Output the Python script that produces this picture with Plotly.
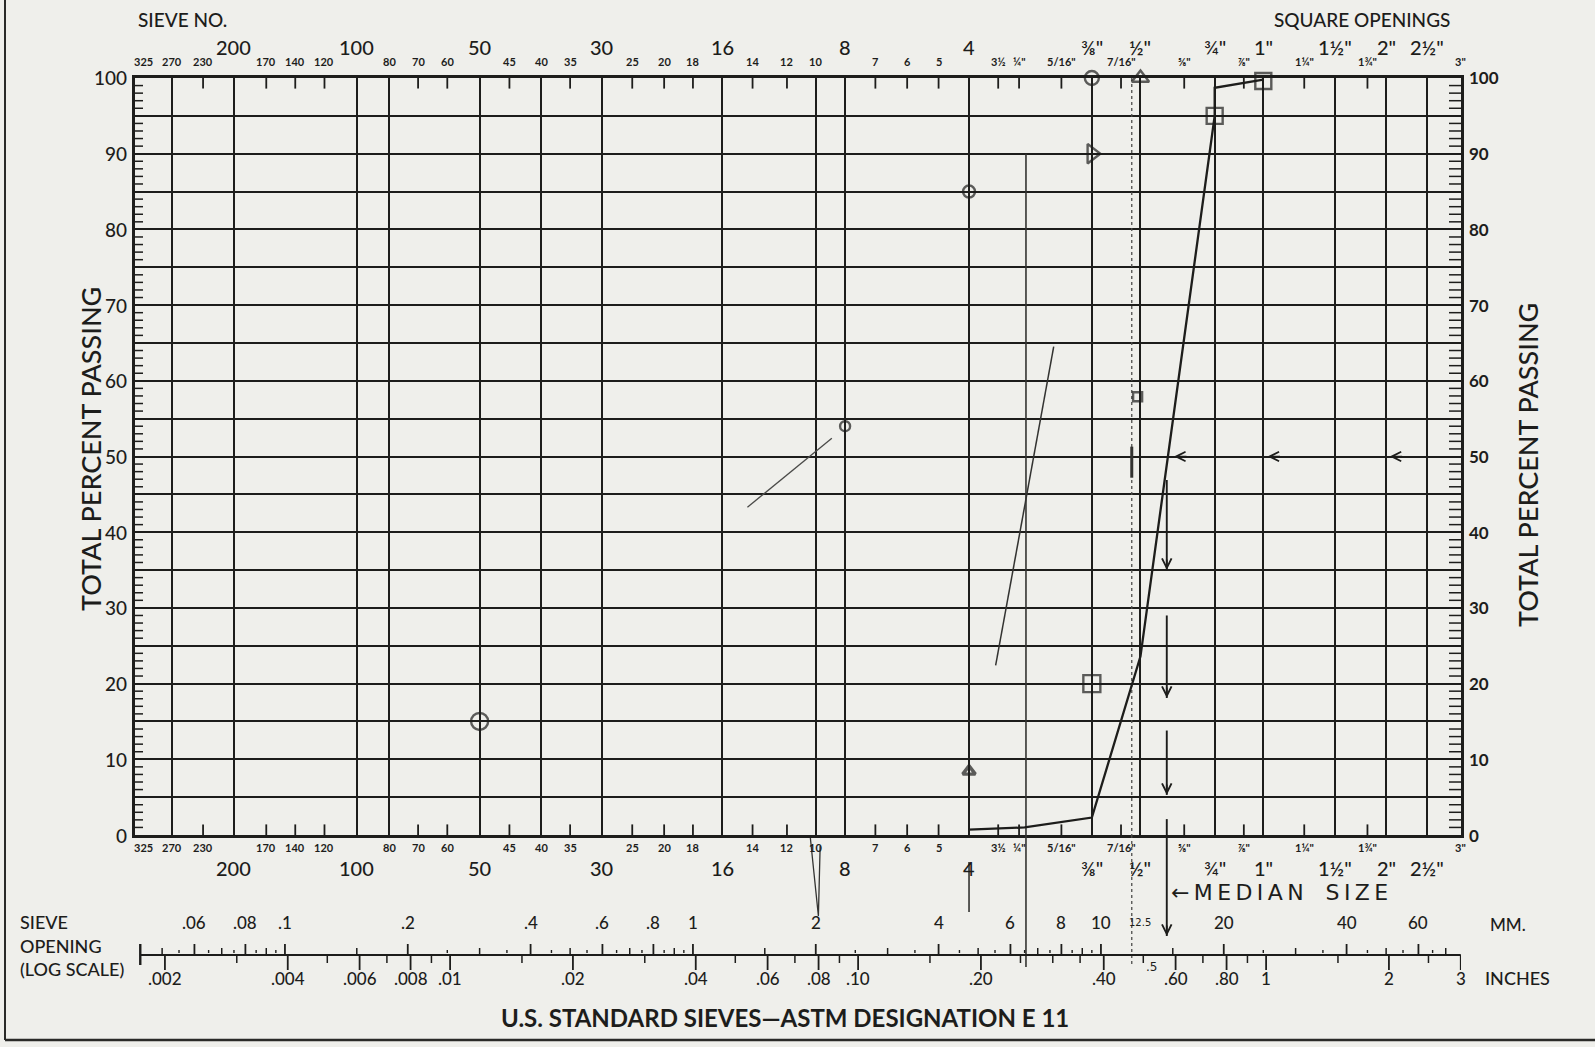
import math
import plotly.graph_objects as go

# ---------------- page geometry (px) ----------------
W, H = 1595, 1047
PLOT_L, PLOT_R, PLOT_T, PLOT_B = 135, 1461, 78, 835
LOG_MIN, LOG_MAX = -1.3675, 1.8825           # log10(mm) at the left / right frame
PX_PER_DECADE = (PLOT_R - PLOT_L) / (LOG_MAX - LOG_MIN)
IN_MM = 25.4

INK = "#1d1d1b"
SKETCH = "#333331"
PAPER = "#efefeb"
FONT = "Lato, 'Noto Sans', 'DejaVu Sans', sans-serif"
HAND = "'DejaVu Sans', sans-serif"

# ---------------- U.S. standard sieve series (opening in mm) ----------------
MAJOR_SIEVE_LABELS = ["200", "100", "50", "30", "16", "8", "4", "⅜\"", "½\"", "¾\"", "1\"", "1½\"", "2\"", "2½\""]
MAJOR_SIEVE_MM = [0.075, 0.150, 0.300, 0.600, 1.18, 2.36, 4.75, 9.5, 12.5, 19.0, 25.0, 37.5, 50.0, 63.0]

MINOR_SIEVE_LABELS = ["325", "270", "230", "170", "140", "120", "80", "70", "60", "45", "40", "35",
                      "25", "20", "18", "14", "12", "10", "7", "6", "5", "3½", "¼\"", "5/16\"",
                      "7/16\"", "⅝\"", "⅞\"", "1¼\"", "1¾\"", "3\""]
MINOR_SIEVE_MM = [0.045, 0.053, 0.063, 0.090, 0.106, 0.125, 0.180, 0.212, 0.250, 0.355, 0.425, 0.500,
                  0.710, 0.850, 1.00, 1.40, 1.70, 2.00, 2.80, 3.35, 4.00, 5.60, 6.30, 8.00,
                  11.2, 16.0, 22.4, 31.5, 45.0, 76.2]
RULED_MINOR = ["270", "80", "40", "10"]      # carry a full ruling instead of an edge tick
UNMARKED_MINOR = ["325", "3\""]              # label only, at the frame corners

# ---------------- sieve-opening ruler ----------------
MM_LABELS = [".06", ".08", ".1", ".2", ".4", ".6", ".8", "1", "2", "4", "6", "8", "10", "20", "40", "60"]
MM_LABEL_VALUES = [0.06, 0.08, 0.1, 0.2, 0.4, 0.6, 0.8, 1, 2, 4, 6, 8, 10, 20, 40, 60]
MM_MINOR_TICKS = [0.05, 0.07, 0.09, 0.15, 0.3, 0.5, 0.7, 0.9, 1.5, 3, 5, 7, 9, 15, 30, 50, 70]
MM_FINE_TICKS = [0.055, 0.065, 0.075, 0.085, 0.095, 0.25, 0.35, 0.45, 0.55, 0.65, 0.75, 0.85, 0.95,
                 2.5, 3.5, 4.5, 5.5, 6.5, 7.5, 8.5, 9.5, 25, 35, 45, 55, 65]
INCH_LABELS = [".002", ".004", ".006", ".008", ".01", ".02", ".04", ".06", ".08", ".10", ".20",
               ".40", ".60", ".80", "1", "2", "3"]
INCH_LABEL_VALUES = [0.002, 0.004, 0.006, 0.008, 0.01, 0.02, 0.04, 0.06, 0.08, 0.10, 0.20,
                     0.40, 0.60, 0.80, 1, 2, 3]
INCH_MINOR_TICKS = [0.003, 0.005, 0.007, 0.009, 0.015, 0.03, 0.05, 0.07, 0.09, 0.15, 0.25, 0.3,
                    0.35, 0.5, 0.7, 0.9, 1.5, 2.5]
RULER_START_MM = 0.0442

# ---------------- grading test ----------------
GRADING_MM = [4.75, 6.5, 9.5, 12.5, 19.0, 19.0, 25.0]
GRADING_PASS = [0.7, 1.0, 2.3, 23.6, 95.0, 98.7, 99.8]

CIRCLE_MM = [9.5, 4.75, 2.36, 0.300]
CIRCLE_PASS = [100, 85, 54, 15]
CIRCLE_SIZE = [14, 12, 10, 17]
SQUARE_MM = [25.0, 19.0, 9.5, 12.3]
SQUARE_PASS = [99.6, 95.0, 20.0, 57.9]
SQUARE_SIZE = [16, 16, 17, 9]
TRI_UP_MM = [12.5, 4.75]
TRI_UP_PASS = [100, 8.4]
TRI_UP_SIZE = [15, 11]
TRI_RIGHT_MM = [9.5]
TRI_RIGHT_PASS = [90]

# median (50 % passing) construction
MEDIAN_PASS = 50
MEDIAN_MM = 14.5
MEDIAN_SEGMENTS = [(46.9, 35.0), (29.0, 18.1), (13.8, 5.3), (2.1, 0.0)]
MEDIAN_ARROW_PASS = [35.0, 18.1, 5.3]
MEDIAN_FOOT_PX = 936
LEFT_ARROW_MM = [15.1, 25.6, 51.0]

# pencil work on the sheet
SKETCH_A_MM, SKETCH_A_PASS = [1.36, 2.19], [43.3, 52.4]
SKETCH_B_MM, SKETCH_B_PASS = [5.52, 7.66], [22.4, 64.5]
QUARTER_MM, QUARTER_TOP_PASS, QUARTER_FOOT_PX = 6.55, 90.0, 967
DOTTED_MM, DOTTED_FOOT_PX = 11.9, 966
DOTTED_HEAVY_PASS = [47.2, 51.3]
NO4_STROKE_PX = [862, 912]
NO10_LOOP_MM, NO10_LOOP_PX = [1.94, 2.03, 2.05], [838, 916, 846]


def lg(v):
    return math.log10(v)


def py(px):
    """page pixel (from top) -> paper fraction"""
    return 1 - px / H


def segments(pairs_x, pairs_y):
    xs, ys = [], []
    for (x0, x1), (y0, y1) in zip(pairs_x, pairs_y):
        xs += [x0, x1, None]
        ys += [y0, y1, None]
    return xs, ys


fig = go.Figure()


def add_lines(xs, ys, width=1.6, color=INK, dash="solid", page=False):
    fig.add_trace(go.Scatter(
        x=xs, y=ys, mode="lines", line=dict(color=color, width=width, dash=dash),
        xaxis="x2" if page else "x", yaxis="y2" if page else "y",
        hoverinfo="skip", showlegend=False))


# ---- edge ticks: percent on both sides ----
pct = [p for p in range(1, 100) if p % 5]
x_left_in = 10 ** (LOG_MIN + 8 / PX_PER_DECADE)
x_right_in = 10 ** (LOG_MAX - 12 / PX_PER_DECADE)
xs, ys = segments([(10 ** LOG_MIN, x_left_in)] * len(pct), [(p, p) for p in pct])
add_lines(xs, ys, width=1.5)
xs, ys = segments([(x_right_in, 10 ** LOG_MAX)] * len(pct), [(p, p) for p in pct])
add_lines(xs, ys, width=1.5)

# ---- edge ticks: intermediate sieves on top and bottom frame ----
tick_mm = [m for m, lab in zip(MINOR_SIEVE_MM, MINOR_SIEVE_LABELS)
           if lab not in RULED_MINOR and lab not in UNMARKED_MINOR]
xs, ys = segments([(m, m) for m in tick_mm] * 2,
                  [(100, 98.6)] * len(tick_mm) + [(0, 1.4)] * len(tick_mm))
add_lines(xs, ys, width=1.8)

# ---- pencil construction lines ----
add_lines(SKETCH_A_MM, SKETCH_A_PASS, width=1.3, color="#4a4a48")
add_lines(SKETCH_B_MM, SKETCH_B_PASS, width=1.5, color=SKETCH)
add_lines([QUARTER_MM, QUARTER_MM], [QUARTER_TOP_PASS, 0], width=1.6, color=SKETCH)
add_lines([QUARTER_MM, QUARTER_MM], [PLOT_B, QUARTER_FOOT_PX], width=1.6, color=SKETCH, page=True)
add_lines([DOTTED_MM, DOTTED_MM], [100, 0], width=1.3, color="#4d4d4b", dash="dot")
add_lines([DOTTED_MM, DOTTED_MM], [PLOT_B, DOTTED_FOOT_PX], width=1.3, color="#4d4d4b", dash="dot", page=True)
add_lines([DOTTED_MM, DOTTED_MM], DOTTED_HEAVY_PASS, width=3, color=SKETCH)
add_lines([4.75, 4.75], NO4_STROKE_PX, width=1.6, color=SKETCH, page=True)
add_lines(NO10_LOOP_MM, NO10_LOOP_PX, width=1.3, color=SKETCH, page=True)

# median drop line
xs, ys = segments([(MEDIAN_MM, MEDIAN_MM)] * len(MEDIAN_SEGMENTS), MEDIAN_SEGMENTS)
add_lines(xs, ys, width=1.9)
add_lines([MEDIAN_MM, MEDIAN_MM], [PLOT_B, MEDIAN_FOOT_PX], width=1.9, page=True)

# ---- grading curve ----
fig.add_trace(go.Scatter(x=GRADING_MM, y=GRADING_PASS, mode="lines",
                         line=dict(color=INK, width=2.3), hoverinfo="skip", showlegend=False))


# ---- test points ----
def add_points(xs, ys, symbol, sizes, width=2.4):
    fig.add_trace(go.Scatter(
        x=xs, y=ys, mode="markers", hoverinfo="skip", showlegend=False, cliponaxis=False,
        marker=dict(symbol=symbol, size=sizes, color=INK, line=dict(color=INK, width=width))))


add_points(CIRCLE_MM, CIRCLE_PASS, "circle-open", CIRCLE_SIZE)
add_points(SQUARE_MM, SQUARE_PASS, "square-open", SQUARE_SIZE)
add_points(TRI_UP_MM[:1], TRI_UP_PASS[:1], "triangle-up-open", TRI_UP_SIZE[:1])
add_points(TRI_UP_MM[1:], TRI_UP_PASS[1:], "triangle-up-open", TRI_UP_SIZE[1:], width=3.4)
add_points(TRI_RIGHT_MM, TRI_RIGHT_PASS, "triangle-right-open", [17])

# ---- sieve-opening ruler below the chart ----
RULER_Y = 955
add_lines([RULER_START_MM, 3 * IN_MM], [RULER_Y, RULER_Y], width=1.9, page=True)
add_lines([RULER_START_MM, RULER_START_MM], [RULER_Y - 11, RULER_Y + 10], width=2.4, page=True)
xs, ys = segments([(v, v) for v in MM_LABEL_VALUES], [(RULER_Y, RULER_Y - 11)] * len(MM_LABEL_VALUES))
add_lines(xs, ys, width=1.8, page=True)
xs, ys = segments([(v, v) for v in MM_MINOR_TICKS], [(RULER_Y, RULER_Y - 7)] * len(MM_MINOR_TICKS))
add_lines(xs, ys, width=1.5, page=True)
xs, ys = segments([(v, v) for v in MM_FINE_TICKS], [(RULER_Y - 2, RULER_Y - 5)] * len(MM_FINE_TICKS))
add_lines(xs, ys, width=1.4, page=True)
inch_major_mm = [v * IN_MM for v in INCH_LABEL_VALUES]
inch_minor_mm = [v * IN_MM for v in INCH_MINOR_TICKS]
xs, ys = segments([(v, v) for v in inch_major_mm], [(RULER_Y, RULER_Y + 15)] * len(inch_major_mm))
add_lines(xs, ys, width=1.8, page=True)
xs, ys = segments([(v, v) for v in inch_minor_mm], [(RULER_Y, RULER_Y + 8)] * len(inch_minor_mm))
add_lines(xs, ys, width=1.5, page=True)

# ---- text ----
ann = []


def text(x, y, s, size, xref="paper", yref="paper", xanchor="center", yanchor="middle",
         family=FONT, weight="normal", angle=0, color=INK):
    ann.append(dict(x=x, y=y, xref=xref, yref=yref, text=s, showarrow=False,
                    xanchor=xanchor, yanchor=yanchor, textangle=angle,
                    font=dict(family=family, size=size, color=color, weight=weight)))


# sieve numbers, top and bottom
for lab, mm in zip(MAJOR_SIEVE_LABELS, MAJOR_SIEVE_MM):
    text(lg(mm), py(47), lab, 20, xref="x", weight=500)
    text(lg(mm), py(868), lab, 20, xref="x", weight=500)
for lab, mm in zip(MINOR_SIEVE_LABELS, MINOR_SIEVE_MM):
    text(lg(mm), py(61), lab, 11, xref="x", weight="bold")
    text(lg(mm), py(847), lab, 11, xref="x", weight="bold")

text(182 / W, py(19), "SIEVE NO.", 19, weight=500)
text(1362 / W, py(19), "SQUARE OPENINGS", 19, weight=500)

# percent scales
for p in range(0, 101, 10):
    text((PLOT_L - 6) / W, p, str(p), 19, yref="y", xanchor="right", weight=500)
    text((PLOT_R + 6) / W, p, str(p), 17, yref="y", xanchor="left", weight="bold")
text(90 / W, py(449), "TOTAL PERCENT PASSING", 27, angle=-90, weight=500)
text(1527 / W, py(465), "TOTAL PERCENT PASSING", 27, angle=-90, weight=500)

# ruler labels
for lab, v in zip(MM_LABELS, MM_LABEL_VALUES):
    text(lg(v), py(922), lab, 17, xref="x", weight=500)
for lab, v in zip(INCH_LABELS, INCH_LABEL_VALUES):
    text(lg(v * IN_MM), py(978), lab, 17, xref="x", weight=500)
text(lg(12.5), py(922), "12.5", 10, xref="x", family=HAND)
text(lg(13.3), py(967), ".5", 12, xref="x", family=HAND)
text(1508 / W, py(924), "MM.", 17, weight=500)
text(1517 / W, py(978), "INCHES", 18, weight=500)
text(18 / W, py(922), "SIEVE", 18, xanchor="left", weight=500)
text(18 / W, py(946), "OPENING", 18, xanchor="left", weight=500)
text(18 / W, py(969), "(LOG SCALE)", 18, xanchor="left", weight=500)
text(785 / W, py(1017), "U.S. STANDARD SIEVES—ASTM DESIGNATION E 11", 24, weight="bold")

# median size note
text(lg(MEDIAN_MM) + 2 / PX_PER_DECADE, py(892),
     "←\u2009M\u2009E\u2009D\u2009I\u2009A\u2009N\u2003S\u2009I\u2009Z\u2009E", 22, xref="x",
     xanchor="left", family=HAND)

# arrowheads on the median construction
for mm in LEFT_ARROW_MM:
    ann.append(dict(x=lg(mm), y=MEDIAN_PASS, xref="x", yref="y", text="", showarrow=True,
                    ax=14, ay=0, arrowhead=5, arrowsize=1.1, arrowwidth=1.7, arrowcolor=INK))
for p in MEDIAN_ARROW_PASS:
    ann.append(dict(x=lg(MEDIAN_MM), y=p, xref="x", yref="y", text="", showarrow=True,
                    ax=0, ay=-12, arrowhead=5, arrowsize=1.1, arrowwidth=1.7, arrowcolor=INK))
ann.append(dict(x=lg(MEDIAN_MM), y=MEDIAN_FOOT_PX, xref="x2", yref="y2", text="", showarrow=True,
                ax=0, ay=-12, arrowhead=5, arrowsize=1.1, arrowwidth=1.7, arrowcolor=INK))

ruled_mm = MAJOR_SIEVE_MM + [m for m, lab in zip(MINOR_SIEVE_MM, MINOR_SIEVE_LABELS) if lab in RULED_MINOR]

fig.update_layout(
    width=W, height=H, autosize=False, margin=dict(l=0, r=0, t=0, b=0),
    paper_bgcolor=PAPER, plot_bgcolor="rgba(0,0,0,0)", showlegend=False, hovermode=False,
    xaxis=dict(type="log", range=[LOG_MIN, LOG_MAX], domain=[PLOT_L / W, PLOT_R / W], anchor="y",
               tickvals=sorted(ruled_mm), showticklabels=False, ticks="",
               showgrid=True, gridcolor=INK, gridwidth=2.4, zeroline=False,
               showline=True, linecolor=INK, linewidth=2.8, mirror=True),
    yaxis=dict(range=[0, 100], domain=[1 - PLOT_B / H, 1 - PLOT_T / H], anchor="x",
               tickvals=list(range(0, 101, 5)), showticklabels=False, ticks="",
               showgrid=True, gridcolor=INK, gridwidth=2.3, zeroline=False,
               showline=True, linecolor=INK, linewidth=2.8, mirror=True),
    xaxis2=dict(type="log", range=[LOG_MIN, LOG_MAX], domain=[PLOT_L / W, PLOT_R / W],
                anchor="y2", visible=False),
    yaxis2=dict(range=[H, 0], domain=[0, 1], anchor="x2", visible=False),
    annotations=ann,
    shapes=[
        dict(type="line", xref="paper", yref="paper", x0=5 / W, x1=5 / W, y0=py(0), y1=py(1040),
             line=dict(color="#2a2a28", width=2)),
        dict(type="line", xref="paper", yref="paper", x0=5 / W, x1=1, y0=py(1040), y1=py(1040),
             line=dict(color="#2a2a28", width=2.5)),
    ],
)

fig.write_html("out.html")
